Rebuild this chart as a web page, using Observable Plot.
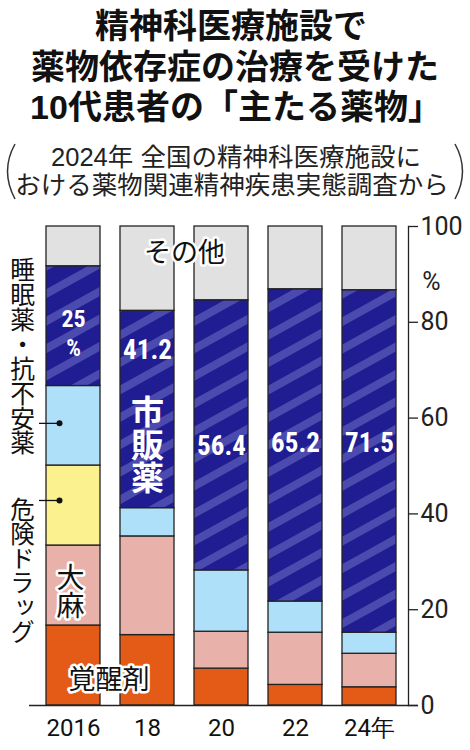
<!DOCTYPE html>
<html lang="ja"><head><meta charset="utf-8">
<script src="https://cdn.jsdelivr.net/npm/d3@7"></script>
<script src="https://cdn.jsdelivr.net/npm/@observablehq/plot@0.6"></script>
<style>
html,body{margin:0;padding:0;background:#fff;}
#wrap{width:470px;height:750px;overflow:hidden;background:#fff;}
svg{display:block;}
</style></head><body><div id="wrap">
<svg id="head" width="470" height="205" font-family="'Liberation Sans','Noto Sans CJK JP',sans-serif">
  <g font-size="34" font-weight="700" fill="#111" text-anchor="middle">
    <text x="231" y="38">精神科医療施設で</text>
    <text x="235" y="79">薬物依存症の治療を受けた</text>
    <text x="236" y="119">10代患者の「主たる薬物」</text>
  </g>
  <g font-size="25.5" fill="#222" text-anchor="middle">
    <text x="236" y="166">2024年 全国の精神科医療施設に</text>
    <text x="232" y="194">おける薬物関連精神疾患実態調査から</text>
  </g>
  <path d="M15,144 Q0,171 15,199" fill="none" stroke="#333" stroke-width="1.5"/>
  <path d="M455,144 Q470,171 455,199" fill="none" stroke="#333" stroke-width="1.5"/>
</svg>
<div id="chart"></div></div>
<script>
const years = ["2016","18","20","22","24"];
const yearLabels = ["2016","18","20","22","24年"];
const categories = ["覚醒剤","大麻","危険ドラッグ","睡眠薬・抗不安薬","市販薬","その他"];
const stimulants = [16.7,14.7,7.7,4.3,3.8];
const cannabis   = [16.7,20.6,7.7,10.9,7.0];
const dangerous  = [16.7,0,0,0,0];
const sleeping   = [16.6,5.9,12.8,6.5,4.4];
const otc        = [25,41.2,56.4,65.2,71.5];
const other      = [8.3,17.6,15.4,13.1,13.3];
const otcLabels  = ["25","41.2","56.4","65.2","71.5"];

const series = [stimulants,cannabis,dangerous,sleeping,otc,other];
const rows = [];
years.forEach((yr,i)=>{
  categories.forEach((c,j)=>{ const v=series[j][i]; if(v>0) rows.push({year:yr,cat:c,value:v}); });
});

const narrow = "'Liberation Sans Narrow','Roboto Condensed','Arial Narrow',Roboto,sans-serif";
const jp = "'Noto Sans CJK JP',sans-serif";
const labelY = [80.7,74.1,54.2,54.7,54.7];
const labelSize = [24,27,27,27,27];
const otcText = years.map((yr,i)=>({year:yr,t:otcLabels[i],y:labelY[i],s:labelSize[i]}));
const halo = {fill:"#111",stroke:"white",strokeWidth:5,paintOrder:"stroke",fontFamily:jp};

const chart = Plot.plot({
  width:470, height:545, marginTop:21, marginBottom:45, marginLeft:25, marginRight:62,
  style:{background:"#fff", fontFamily:jp, overflow:"visible"},
  x:{domain:years, paddingInner:0.27, paddingOuter:0.214, align:0.63, label:null},
  y:{domain:[0,100], label:null},
  color:{domain:categories, range:["#e35b17","#e8b1a9","#fcf18f","#aee1f9","url(#stripes)","#e1e1e1"]},
  marks:[
    Plot.barY(rows,{x:"year",y:"value",fill:"cat",order:categories,stroke:"#222",strokeWidth:1.3}),
    Plot.ruleY([0],{stroke:"#222",strokeWidth:1.5,insetLeft:4,insetRight:-10}),
    Plot.frame({anchor:"right",stroke:"#222",strokeWidth:1.3}),
    Plot.axisY({anchor:"right",ticks:[0,20,40,60,80,100],tickSize:9,tickPadding:3,fontSize:25,fontFamily:"Roboto,sans-serif",color:"#222",strokeWidth:1.3,label:null}),
    Plot.axisX({tickSize:0,tickPadding:13,fontSize:24,fontFamily:"Roboto,sans-serif",color:"#111",tickFormat:d=>yearLabels[years.indexOf(d)],label:null}),
    Plot.text([{t:"%"}],{frameAnchor:"right",y:()=>88.4,dx:32,text:"t",fontSize:25,fontFamily:"Roboto,sans-serif",fill:"#222"}),
    Plot.text(otcText,{x:"year",y:"y",text:"t",fill:"white",fontSize:"s",fontWeight:"bold",fontFamily:narrow}),
    Plot.text([{year:"2016",y:74.5,t:"%"}],{x:"year",y:"y",text:"t",fill:"white",fontSize:23,fontWeight:"bold",fontFamily:narrow}),
    Plot.text([{year:"18",y:56.8,t:"市販薬"}],{x:"year",y:"y",text:"t",fill:"white",fontSize:33,fontWeight:"bold",fontFamily:jp}),
    Plot.text([{year:"18",y:94.4,t:"その他"}],{x:"year",y:"y",text:"t",dx:37,fontSize:27,...halo}),
    Plot.text([{year:"2016",y:25.7,t:"大麻"}],{x:"year",y:"y",text:"t",dx:-3,fontSize:28,...halo}),
    Plot.text([{year:"2016",y:5.2,t:"覚醒剤"}],{x:"year",y:"y",text:"t",dx:35.5,fontSize:27,...halo}),
    Plot.text([{year:"2016",y:74.5,t:"睡眠薬・抗不安薬"}],{x:"year",y:"y",text:"t",dx:-51,fontSize:24.7,fill:"#111",fontFamily:jp}),
    Plot.text([{year:"2016",y:29.8,t:"危険ドラッグ"}],{x:"year",y:"y",text:"t",dx:-51,fontSize:24.5,fill:"#111",fontFamily:jp}),
    Plot.tickY([{year:"2016",y:58.9},{year:"2016",y:42.8}],{x:"year",y:"y",dx:-7,insetRight:34,stroke:"#111",strokeWidth:1.3}),
    Plot.dot([{year:"2016",y:58.9},{year:"2016",y:42.8}],{x:"year",y:"y",dx:-14,r:3,fill:"#111"})
  ]
});

const svg = d3.select(chart);
const defs = svg.insert("defs",":first-child");
const pat = defs.append("pattern").attr("id","stripes").attr("patternUnits","userSpaceOnUse")
  .attr("width",24).attr("height",24).attr("patternTransform","rotate(-29)");
pat.append("rect").attr("width",24).attr("height",24).attr("fill","#201c91");
pat.append("rect").attr("width",24).attr("height",8).attr("fill","#4b4aae");
// vertical (tategaki) labels
const vt = ["市販薬","大麻","睡眠薬・抗不安薬","危険ドラッグ"];
svg.selectAll("text").filter(function(){return vt.includes(this.textContent);})
  .attr("dy",null).attr("writing-mode","vertical-rl")
  .style("writing-mode","vertical-rl").style("text-orientation","upright");
document.getElementById("chart").appendChild(chart);
</script>
</body></html>
